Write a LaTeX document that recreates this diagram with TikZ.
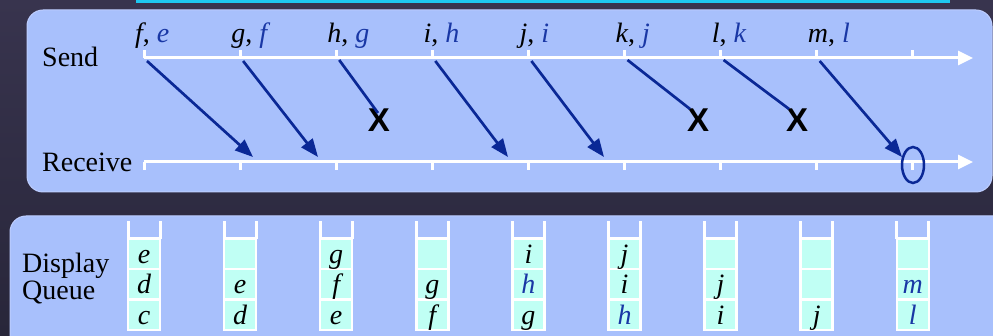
\documentclass[tikz,border=0pt]{standalone}
\usepackage{fontspec}
\setmainfont{Liberation Serif}
\newfontfamily\xfont{Liberation Sans}
\usetikzlibrary{arrows.meta,shapes.geometric}
\definecolor{bg}{RGB}{40,38,58}
\definecolor{bgtop}{RGB}{56,52,78}
\definecolor{bar}{RGB}{30,200,240}
\definecolor{panel}{RGB}{168,192,252}
\definecolor{msg}{RGB}{10,40,150}
\definecolor{late}{RGB}{25,55,165}
\definecolor{cell}{RGB}{192,255,244}
\newcommand{\MsgTip}{Triangle[length=18,width=14]}
\newcommand{\AxTip}{Triangle[length=15,width=14]}
\newcommand{\Late}[1]{\textcolor{late}{#1}}
\tikzset{axis/.style={white,line width=3,-{\AxTip}},tick/.style={white,line width=3},
  msgarrow/.style={msg,line width=2.7,-{\MsgTip}},lostmsg/.style={msg,line width=2.7},
  lost/.style={font=\xfont\bfseries\fontsize{33}{36}\selectfont,inner sep=0},
  lbl/.style={font=\rmfamily\fontsize{28}{32}\selectfont,inner sep=0,anchor=base west},
  qcell/.style={fill=cell,draw=white,line width=2.5,minimum width=32,minimum height=30.5,inner sep=0,outer sep=0,
    text height=19,text depth=0,font=\rmfamily\itshape\fontsize{28}{32}\selectfont}}
\begin{document}
\begin{tikzpicture}[x=1pt,y=-1pt]
\useasboundingbox(0,0)rectangle(993,336);
\shade[top color=bgtop,bottom color=bg](0,0)rectangle(993,336);
\fill[bar](136,0)rectangle(950,3);
\filldraw[panel,draw={rgb,255:red,190;green,206;blue,255},line width=1,rounded corners=16](27,10)rectangle(992,192);
\filldraw[panel,draw={rgb,255:red,190;green,206;blue,255},line width=1,rounded corners=16](10,216)rectangle(1010,350);
% time axes
\node[lbl](send)at(42,67){Send};\node[lbl](recv)at(42,172){Receive};
\coordinate(s0)at(144,58);\coordinate(r0)at(144,162);\coordinate(send end)at(973,58);\coordinate(recv end)at(973,162);
\draw[axis](s0)--(send end);\draw[axis](r0)--(recv end);
\foreach \i in {1,...,9}{\coordinate(s\i)at({144+96.1*(\i-1)},58);\coordinate(r\i)at({144+96.1*(\i-1)},162);
  \draw[tick](s\i)--++(0,-8);\draw[tick](r\i)--++(0,8);}
% packets sent: current, redundant copy of previous
\foreach \i/\a/\b in {1/f/e,2/g/f,3/h/g,4/i/h,5/j/i,6/k/j,7/l/k,8/m/l}
  \node[lbl](p\i)at([xshift=-9,yshift=15]s\i){\textit{\a}, \Late{\textit{\b}}};
\coordinate(a1)at(253,157);\coordinate(a2)at(318,157);\coordinate(a4)at(508,157);\coordinate(a5)at(604,157);\coordinate(a8)at(902,157);
\foreach \i in {1,2,4,5,8}\draw[msgarrow]([xshift=3,yshift=-3]s\i)--(a\i);
\node[lost](x3)at(379,120){X};\node[lost](x6)at(698,120){X};\node[lost](x7)at(797,120){X};
\coordinate(a3)at(378,113);\coordinate(a6)at(690,109);\coordinate(a7)at(789,109);
\foreach \i in {3,6,7}\draw[lostmsg]([xshift=3,yshift=-2]s\i)--(a\i);
\node[ellipse,draw=msg,line width=2.5,minimum width=22,minimum height=36,inner sep=0](hit)at(913,165){};
% display queues
\node[lbl](disp)at(22,273){Display};\node[lbl](queue)at(22,300){Queue};
\foreach \i/\c/\b/\a in {1/c/d/e,2/d/e/,3/e/f/g,4/f/g/,5/g/\Late{h}/i,6/\Late{h}/i/j,7/i/j/,8/j//,9/\Late{l}/\Late{m}/}{
  \node[qcell](q\i-1)at({144+96.1*(\i-1)},315){\c};
  \node[qcell,anchor=south](q\i-2)at(q\i-1.north){\b};
  \node[qcell,anchor=south](q\i-3)at(q\i-2.north){\a};
  \draw[tick](q\i-3.north west)--++(0,-18);\draw[tick](q\i-3.north east)--++(0,-18);}
\end{tikzpicture}
\end{document}
